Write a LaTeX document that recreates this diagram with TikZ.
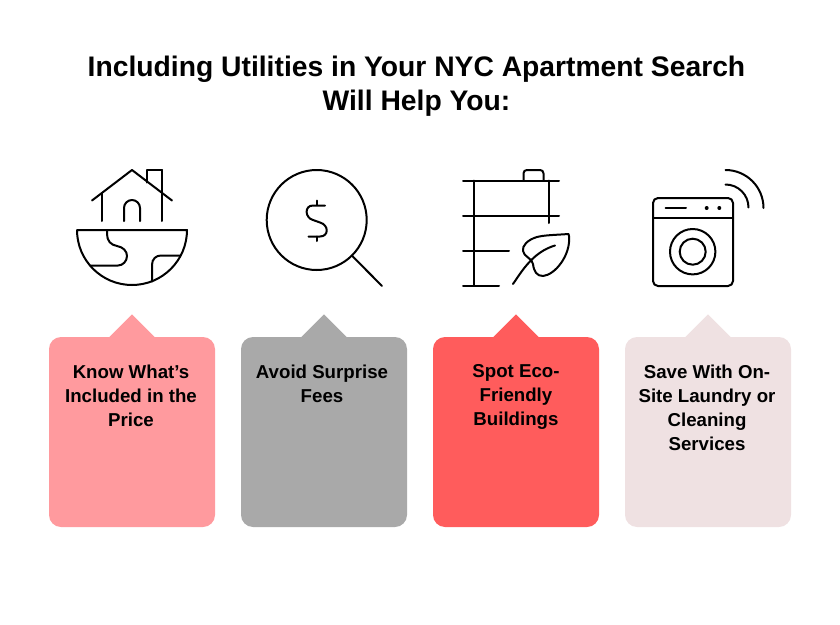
\documentclass[tikz,border=0pt]{standalone}
\usepackage{fontspec}
\setmainfont{Liberation Sans}
\usepackage{xcolor}
\usetikzlibrary{calc, positioning, shapes.geometric}

\definecolor{cardpink}{HTML}{FF9A9E}
\definecolor{cardgrey}{HTML}{A9A9A9}
\definecolor{cardred}{HTML}{FF5C5C}
\definecolor{cardpale}{HTML}{EFE1E2}

\tikzset{
    card/.style={rounded corners=9pt, minimum width=124.5pt, minimum height=142.5pt, inner sep=0pt},
    cardtip/.style={isosceles triangle, isosceles triangle apex angle=90, shape border rotate=90, minimum height=17.25pt, inner sep=0pt, anchor=apex},
    cardtext/.style={font=\bfseries\fontsize{14pt}{18pt}\selectfont, align=center, anchor=north, inner sep=0pt},
    icon/.style={line width=1.5pt, line cap=round, line join=round},
}

\begin{document}
\begin{tikzpicture}[x=0.75pt, y=-0.75pt]
        \useasboundingbox (0, 0) rectangle (840, 625);

        \node (title) [font=\bfseries\fontsize{21.2pt}{25.5pt}\selectfont, align=center] at (416.5, 86.5) {Including Utilities in Your NYC Apartment Search\\Will Help You:};

        % home icon
        \draw [icon] (92, 200.5) -- (132, 170) -- (172, 200.5);
        \draw [icon] (102, 193) -- (102, 221) (162, 170) -- (162, 221);
        \draw [icon] (147, 182.5) -- (147, 170) -- (162, 170);
        \draw [icon] (124, 221) -- (124, 208) arc (180:360:8) -- (140, 221);
        \draw [icon] (77, 230) -- (187, 230) arc (0:180:55);
        \draw [icon] (107, 230) -- (107, 234) .. controls (107, 241) and (111, 245) .. (117, 246) .. controls (123, 247) and (127, 251) .. (127, 256) .. controls (127, 261) and (123, 265.5) .. (118, 265.5) -- (90, 265.5);
        \draw [icon] (152, 281.5) -- (152, 265) .. controls (152, 259) and (156, 255.5) .. (161, 255.5) -- (180.5, 255.5);

        % magnifier icon
        \draw [icon] (316.7, 220) circle (50);
        \draw [icon] (352.3, 256) -- (382, 286);
        \draw [icon] (316.7, 200.5) -- (316.7, 205) (316.7, 236.5) -- (316.7, 241);
        \draw [icon] (325, 205.5) -- (313, 205.5) .. controls (304, 205.5) and (305, 218) .. (313, 220) -- (320, 222.5) .. controls (329, 225) and (329, 236.5) .. (320, 236.5) -- (308.5, 236.5);

        % barrel icon
        \draw [icon] (463, 180.5) -- (559, 180.5) (463, 215.5) -- (559, 215.5) (463, 250.5) -- (509, 250.5) (463, 285.5) -- (499, 285.5);
        \draw [icon] (473.5, 180.5) -- (473.5, 285.5) (548.5, 180.5) -- (548.5, 223);
        \draw [icon, rounded corners=2.5pt] (523.5, 180.5) -- (523.5, 170) -- (543.5, 170) -- (543.5, 180.5);
        \draw [icon] (513, 284) .. controls (522, 271) and (533, 252) .. (555, 245.5);
        \draw [icon] (568.5, 234) .. controls (555, 235) and (545, 235) .. (537, 237) .. controls (527, 240) and (522, 246) .. (523, 251) .. controls (524, 257) and (532, 258) .. (533, 264) .. controls (534, 272) and (537, 276) .. (543, 276) .. controls (555, 275) and (571, 255) .. (569, 236) -- cycle;

        % washer icon
        \draw [icon, rounded corners=3.75pt] (653, 198) rectangle (733, 286);
        \draw [icon] (653, 217.5) -- (733, 217.5) (665.5, 208) -- (686, 208);
        \fill (706.7, 208) circle (2) (719.3, 208) circle (2);
        \draw [icon] (692.7, 251.7) circle (22.7) (692.7, 251.7) circle (13);
        \draw [icon] (725.5, 184.5) arc (270:360:23);
        \draw [icon] (725.5, 170) arc (270:360:38);

        % cards
        \node (know tip) [cardtip, fill=cardpink] at (132, 314) {};
        \node (know) [card, fill=cardpink] at (132, 432) {};
        \node (know text) [cardtext] at (131, 364.5) {Know What’s\\Included in the\\Price};

        \node (avoid tip) [cardtip, fill=cardgrey] at (324, 314) {};
        \node (avoid) [card, fill=cardgrey] at (324, 432) {};
        \node (avoid text) [cardtext] at (322, 364.5) {Avoid Surprise\\Fees};

        \node (spot tip) [cardtip, fill=cardred] at (516, 314) {};
        \node (spot) [card, fill=cardred] at (516, 432) {};
        \node (spot text) [cardtext] at (516, 364.5) {Spot Eco-\\Friendly\\Buildings};

        \node (save tip) [cardtip, fill=cardpale] at (708, 314) {};
        \node (save) [card, fill=cardpale] at (708, 432) {};
        \node (save text) [cardtext] at (707, 364.5) {Save With On-\\Site Laundry or\\Cleaning\\Services};
    \end{tikzpicture}
\end{document}
